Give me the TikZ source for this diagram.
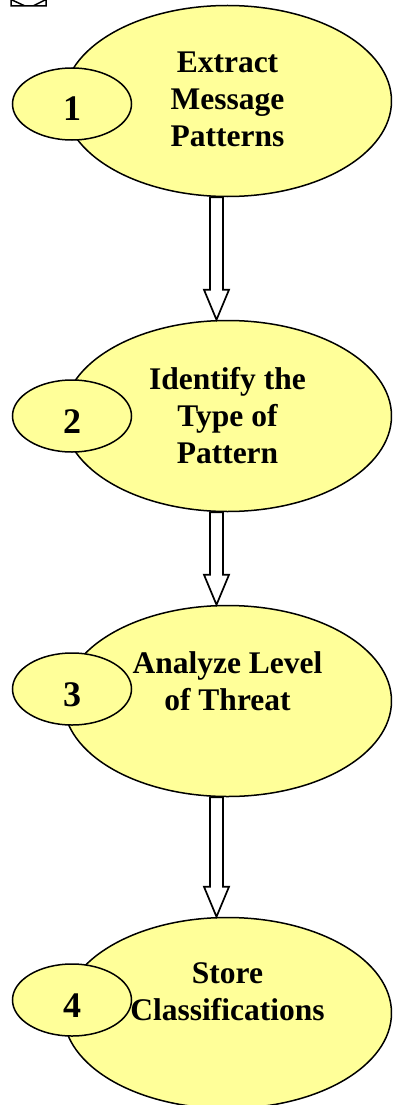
\documentclass[tikz,border=0pt]{standalone}
\usepackage{fontspec}
\setmainfont{Liberation Serif}
\usepackage{tikz}
\usetikzlibrary{calc,shapes.geometric}
\definecolor{paleyellow}{RGB}{255,255,153}
\newcommand{\flowarrow}[2]{%
  \draw[flow] let \p1=($(#1.south)+(-11pt,0)$), \p2=($(#2.north)+(-11pt,0)$) in
    (\x1-6.5pt,\y1) -- (\x1-6.5pt,\y2+30pt) -- (\x1-12.5pt,\y2+30pt) -- (\x1,\y2)
    -- (\x1+12.5pt,\y2+30pt) -- (\x1+6.5pt,\y2+30pt) -- (\x1+6.5pt,\y1) -- cycle;}

\begin{document}
\begin{tikzpicture}[x=1pt,y=-1pt,
    bigoval/.style={ellipse, draw, fill=paleyellow, line width=1.5pt,
      minimum width=328pt, minimum height=191pt, inner sep=0pt},
    numoval/.style={ellipse, draw, fill=paleyellow, line width=1.5pt,
      minimum width=119pt, minimum height=72pt, inner sep=0pt,
      font=\fontsize{36}{36}\selectfont\bfseries, text height=34pt, text depth=0pt},
    steptext/.style={anchor=north, align=center, inner sep=0pt,
      font=\fontsize{31.5}{37}\selectfont\bfseries},
    flow/.style={fill=white, line width=1.7pt, line join=miter}]
  \useasboundingbox (0,0) rectangle (392,1105);
  \clip (0,0) rectangle (392,1105);

  % clipped icon at the top
  \draw[line width=1.5pt] (11,-20) -- (11,6) -- (46,6) -- (46,-20)
    (12,0) -- (25,6) (45,0) -- (33,6);

  \node[bigoval] (e1) at (227.5,101) {};
  \node[bigoval] (e2) at (227.5,416) {};
  \node[bigoval] (e3) at (227.5,701) {};
  \node[bigoval] (e4) at (227.5,1013) {};

  \node[numoval] (n1) at (72,104) {1};
  \node[numoval] (n2) at (72,416) {2};
  \node[numoval] (n3) at (72,689) {3};
  \node[numoval] (n4) at (72,1000) {4};

  \node[steptext] (t1) at ($(e1.north)+(0,47)$) {Extract\\Message\\Patterns};
  \node[steptext] (t2) at ($(e2.north)+(0,47)$) {Identify the\\Type of\\Pattern};
  \node[steptext] (t3) at ($(e3.north)+(0,47)$) {Analyze Level\\of Threat};
  \node[steptext] (t4) at ($(e4.north)+(0,46)$) {Store\\Classifications};

  \flowarrow{e1}{e2}
  \flowarrow{e2}{e3}
  \flowarrow{e3}{e4}
\end{tikzpicture}
\end{document}
